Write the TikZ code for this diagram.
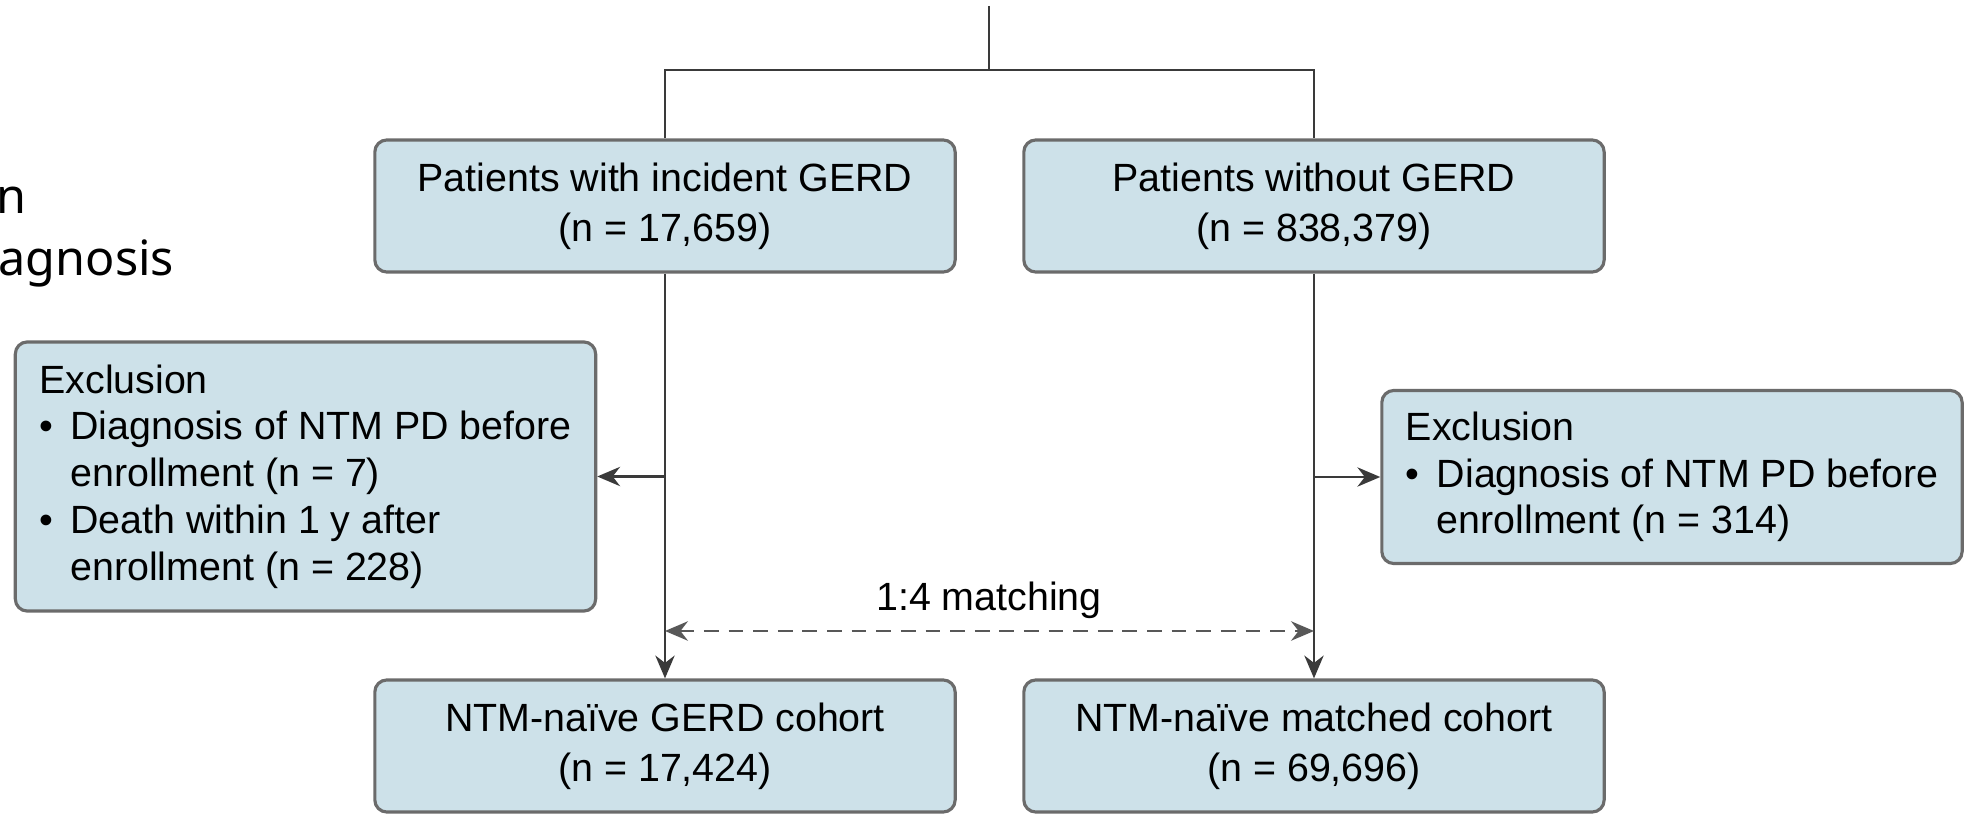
\documentclass[tikz,border=0pt]{standalone}
\usepackage{fontspec}
\setmainfont{Liberation Sans}
\newfontfamily\sidefont{Noto Sans}
\usetikzlibrary{arrows.meta}
\definecolor{boxfill}{HTML}{CDE1E9}
\definecolor{boxline}{HTML}{6B6B6B}
\definecolor{linecol}{HTML}{3A3A3A}
\newcommand{\exbullet}{\makebox[0.31cm][l]{\textbullet}}
\newcommand{\exindent}{\hspace*{0.31cm}}
\tikzset{
  box/.style = {draw=boxline, fill=boxfill, line width=0.9pt, rounded corners=0.12cm,
    minimum width=5.8cm, minimum height=1.32cm, inner sep=0pt, align=center,
    font=\fontsize{11.2}{14.2}\selectfont},
  excl/.style = {draw=boxline, fill=boxfill, line width=0.9pt, rounded corners=0.12cm,
    minimum width=5.8cm, inner sep=0pt, align=left,
    font=\fontsize{11.2}{13.3}\selectfont},
  conn/.style = {draw=linecol, line width=0.6pt},
  side/.style = {anchor=base west, inner sep=0pt, font=\sidefont\fontsize{13.8}{16}\selectfont},
  >={Stealth[length=6.5pt,width=5.5pt]}
}
\begin{document}
\begin{tikzpicture}[x=0.01cm, y=-0.01cm]
\useasboundingbox (0,0) rectangle (1971,815);
\node[side] (sidea) at (-4,213) {n};
\node[side] (sideb) at (-2,275) {agnosis};
\node[box] (incident) at (665,206) {Patients with incident GERD\\(n = 17,659)};
\node[box] (nogerd) at (1314,206) {Patients without GERD\\(n = 838,379)};
\node[excl, minimum height=2.69cm] (exclgerd) at (305.5,476.5) {Exclusion\\
  \exbullet Diagnosis of NTM PD before\\
  \exindent enrollment (n = 7)\\
  \exbullet Death within 1 y after\\
  \exindent enrollment (n = 228)};
\node[excl, minimum height=1.73cm] (exclnogerd) at (1672,477) {Exclusion\\
  \exbullet Diagnosis of NTM PD before\\
  \exindent enrollment (n = 314)};
\node[box] (gerdcohort) at (665,746) {NTM-naïve GERD cohort\\(n = 17,424)};
\node[box] (matchcohort) at (1314,746) {NTM-naïve matched cohort\\(n = 69,696)};
\coordinate (top) at (989,6);
\coordinate (split) at (989,70);
\draw[conn] (top) -- (split);
\draw[conn] (incident.north) |- (split) -| (nogerd.north);
\draw[conn,->] (incident) -- (gerdcohort);
\draw[conn,->] (nogerd) -- (matchcohort);
\coordinate (gerdexit) at (incident.south |- exclgerd.east);
\coordinate (nogerdexit) at (nogerd.south |- exclnogerd.west);
\draw[conn,->] (gerdexit) -- (exclgerd.east);
\draw[conn,->] (nogerdexit) -- (exclnogerd.west);
\coordinate (matchl) at (incident.south |- 0,631);
\coordinate (matchr) at (nogerd.south |- 0,631);
\node[anchor=base, inner sep=0pt, font=\fontsize{11.2}{13}\selectfont] (matchlbl) at (989,610) {1:4 matching};
\draw[conn,<->,line width=0.8pt,draw=linecol!85,dash pattern=on 4.2pt off 2.8pt] (matchl) -- (matchr);
\end{tikzpicture}
\end{document}
